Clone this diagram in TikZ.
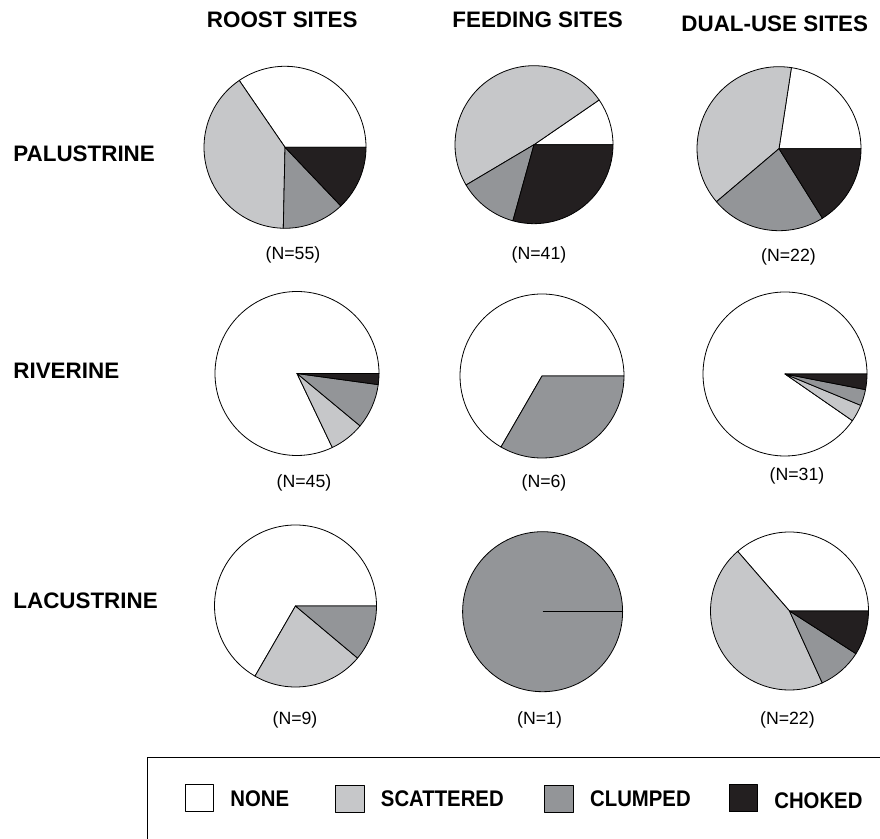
\documentclass[tikz,border=0pt]{standalone}
\usepackage{fontspec}
\setmainfont{Liberation Sans}
\newfontfamily\narrowsans{Liberation Sans}[FakeStretch=0.9]
\usetikzlibrary{positioning}
\definecolor{scattered}{HTML}{C6C7C9}
\definecolor{clumped}{HTML}{939598}
\definecolor{choked}{HTML}{231F20}
\newcommand{\piewedge}[5]{\filldraw[fill=#5] (#1) -- ++(#3:#2) arc[start angle=#3, end angle=#4, radius=#2] -- cycle;}

\begin{document}
\begin{tikzpicture}[x=1pt,y=1pt,line width=0.8pt,line join=round,
                    heading/.style={font=\fontsize{22.4}{26}\bfseries\selectfont,inner sep=0pt,anchor=west},
                    count/.style={font=\fontsize{17.7}{21}\selectfont,inner sep=0pt},
                    swatch/.style={draw,minimum width=28.5pt,minimum height=27pt,inner sep=0pt},
                    legtext/.style={font=\narrowsans\fontsize{22.6}{26}\bfseries\selectfont,inner sep=0pt,right=16pt of #1}]

	\useasboundingbox (0,0) rectangle (880,838);

	\node[heading] (roost)   at (206.5,818) {ROOST SITES};
	\node[heading] (feeding) at (452,818)   {FEEDING SITES};
	\node[heading] (dual)    at (681,814)   {DUAL-USE SITES};

	\node[heading] (palus)   at (13,684.7)  {PALUSTRINE};
	\node[heading] (river)   at (13,467.5)  {RIVERINE};
	\node[heading] (lacus)   at (13,237.5)  {LACUSTRINE};

	\coordinate (p11) at (285,690.7);
	\coordinate (p12) at (534,693.3);
	\coordinate (p13) at (779,689.3);
	\coordinate (p21) at (297,464.5);
	\coordinate (p22) at (542,462);
	\coordinate (p23) at (785,464);
	\coordinate (p31) at (295.5,232);
	\coordinate (p32) at (542.6,226.3);
	\coordinate (p33) at (789.5,227);

	\piewedge{p11}{81}{0}{124.4}{white}
	\piewedge{p11}{81}{124.4}{268.8}{scattered}
	\piewedge{p11}{81}{268.8}{313.6}{clumped}
	\piewedge{p11}{81}{313.6}{360}{choked}

	\piewedge{p12}{79}{0}{34.5}{white}
	\piewedge{p12}{79}{34.5}{210.7}{scattered}
	\piewedge{p12}{79}{210.7}{254.5}{clumped}
	\piewedge{p12}{79}{254.5}{360}{choked}

	\piewedge{p13}{82}{0}{81.3}{white}
	\piewedge{p13}{82}{81.3}{220.3}{scattered}
	\piewedge{p13}{82}{220.3}{302}{clumped}
	\piewedge{p13}{82}{302}{360}{choked}

	\piewedge{p21}{82}{0}{295.5}{white}
	\piewedge{p21}{82}{295.5}{320.3}{scattered}
	\piewedge{p21}{82}{320.3}{352.2}{clumped}
	\piewedge{p21}{82}{352.2}{360}{choked}

	\piewedge{p22}{82}{0}{240}{white}
	\piewedge{p22}{82}{240}{360}{clumped}

	\piewedge{p23}{82}{0}{325.3}{white}
	\piewedge{p23}{82}{325.3}{337.5}{scattered}
	\piewedge{p23}{82}{337.5}{349}{clumped}
	\piewedge{p23}{82}{349}{360}{choked}

	\piewedge{p31}{81}{0}{240}{white}
	\piewedge{p31}{81}{240}{320}{scattered}
	\piewedge{p31}{81}{320}{360}{clumped}

	\filldraw[fill=clumped] (p32) circle[radius=80];
	\draw[line width=1.4pt] (p32) -- ++(0:80);

	\piewedge{p33}{79}{0}{131}{white}
	\piewedge{p33}{79}{131}{294.5}{scattered}
	\piewedge{p33}{79}{294.5}{327.3}{clumped}
	\piewedge{p33}{79}{327.3}{360}{choked}

	\node[count] (n11) at (293,583)   {(N=55)};
	\node[count] (n12) at (539,583)   {(N=41)};
	\node[count] (n13) at (788.5,581) {(N=22)};
	\node[count] (n21) at (304,355)   {(N=45)};
	\node[count] (n22) at (544,355)   {(N=6)};
	\node[count] (n23) at (797,362)   {(N=31)};
	\node[count] (n31) at (295,118)   {(N=9)};
	\node[count] (n32) at (539.6,118) {(N=1)};
	\node[count] (n33) at (787.4,118) {(N=22)};

	\coordinate (boxlow) at (147,-5);
	\coordinate (boxcorner) at (147,81);
	\coordinate (boxright) at (885,81);
	\draw (boxlow) -- (boxcorner) -- (boxright);

	\node[swatch,fill=white]     (kNone)  at (199.3,39.7) {};
	\node[swatch,fill=scattered] (kScat)  at (349.9,39.5) {};
	\node[swatch,fill=clumped]   (kClump) at (559.1,39.5) {};
	\node[swatch,fill=choked]    (kChoke) at (743.3,39.7) {};

	\node[legtext=kNone]  (tNone)  {NONE};
	\node[legtext=kScat]  (tScat)  {SCATTERED};
	\node[legtext=kClump] (tClump) {CLUMPED};
	\node[legtext=kChoke,yshift=-2pt] (tChoke) {CHOKED};

\end{tikzpicture}
\end{document}
